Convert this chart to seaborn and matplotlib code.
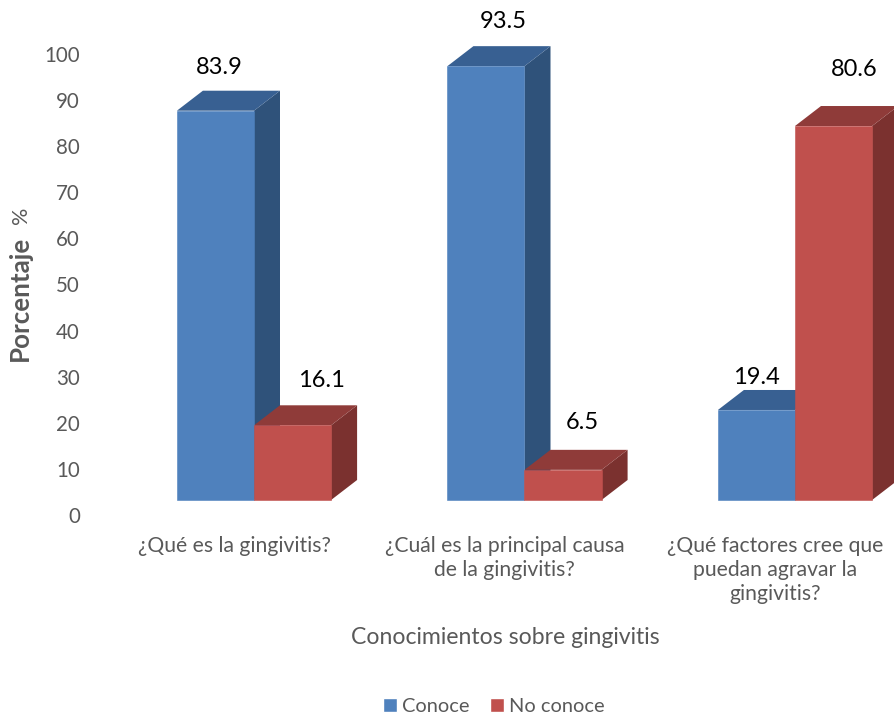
import pandas as pd
import matplotlib
matplotlib.use('Agg')
import matplotlib.pyplot as plt
import seaborn as sns

preguntas = ['¿Qué es la gingivitis?',
             '¿Cuál es la principal causa\nde la gingivitis?',
             '¿Qué factores cree que\npuedan agravar la\ngingivitis?']
conoce = [83.9, 93.5, 19.4]
no_conoce = [16.1, 6.5, 80.6]
y_ticks = [0, 10, 20, 30, 40, 50, 60, 70, 80, 90, 100]

colores = {'Conoce': '#4f81bd', 'No conoce': '#c0504d'}
lado = {'Conoce': '#2f527a', 'No conoce': '#7b312f'}
techo = {'Conoce': '#386092', 'No conoce': '#8f3b39'}
gris = '#595959'

# sizes of the picture in pixels
W, H = 894, 719
base_y = 500       # foot of the bars
px_valor = 4.64    # pixels per percent for the bars
px_tick = 4.61     # the axis labels run on a slightly different scale
tick0_y = 515
px_cat = 270.5
cat0_x = 254
fondo_x, fondo_y = 26, 20

df = pd.DataFrame({
    'pregunta': preguntas * 2,
    'valor': conoce + no_conoce,
    'serie': ['Conoce'] * 3 + ['No conoce'] * 3,
})

sns.set_theme(style='white')
plt.rcParams['font.family'] = ['Lato', 'DejaVu Sans']

fig = plt.figure(figsize=(W / 100, H / 100), dpi=100)
izq = 100
ax = fig.add_axes([izq / W, (H - tick0_y) / H, (W - izq) / W, tick0_y / H])

sns.barplot(data=df, x='pregunta', y='valor', hue='serie', palette=colores,
            hue_order=['Conoce', 'No conoce'], width=0.57, saturation=1,
            legend=True, ax=ax, zorder=5)

ax.set_xlim((izq - cat0_x) / px_cat, (W - cat0_x) / px_cat)
ax.set_ylim((base_y - tick0_y) / px_valor, base_y / px_valor)

# depth of the 3D look, taken from each bar
dx = fondo_x / px_cat
dy = fondo_y / px_valor
n = len(preguntas)
barras = [p for p in ax.patches if p.get_width() > 0][:2 * n]
for i, b in enumerate(barras):
    serie = 'Conoce' if i < n else 'No conoce'
    b.set_edgecolor(b.get_facecolor())
    b.set_linewidth(0.4)
    x0, x1 = b.get_x(), b.get_x() + b.get_width()
    alto = b.get_height()
    ax.fill([x1, x1 + dx, x1 + dx, x1], [0, dy, alto + dy, alto],
            color=lado[serie], lw=0, zorder=2 + i / 10)
    ax.fill([x0, x1, x1 + dx, x0 + dx], [alto, alto, alto + dy, alto + dy],
            color=techo[serie], lw=0, zorder=2 + i / 10)

# value labels, offset by hand like in the source chart
desp = [(4, 33), (17, 34), (0, 22), (29, 34), (19, 37), (21, 46)]
for b, (ox, oy) in zip(barras, desp):
    ax.annotate(f'{b.get_height():.1f}',
                (b.get_x() + b.get_width() / 2, b.get_height()),
                xytext=(ox * 0.72, oy * 0.72), textcoords='offset points',
                ha='center', va='bottom', fontsize=17, color='black',
                annotation_clip=False, zorder=8)

ax.set_yticks([(base_y - tick0_y + px_tick * t) / px_valor for t in y_ticks],
              [str(t) for t in y_ticks])
ax.set_xticks([i - 20 / px_cat for i in range(n)], preguntas)
ax.tick_params(axis='y', length=0, pad=14.5, labelsize=14.8, labelcolor=gris)
ax.tick_params(axis='x', length=0, pad=15, labelsize=15.2, labelcolor=gris)
for lab in ax.get_xticklabels():
    lab.set_linespacing(1.25)

sns.despine(ax=ax, left=True, bottom=True)
ax.set_xlabel('')
ax.set_ylabel('')

fig.text(505 / W, 1 - 637 / H, 'Conocimientos sobre gingivitis', ha='center',
         va='center', fontsize=16.6, color=gris)
fig.text(20 / W, 1 - 298 / H, 'Porcentaje', rotation=90, ha='center',
         va='center', fontsize=18.6, fontweight='bold', color=gris)
fig.text(21 / W, 1 - 215 / H, '%', rotation=90, ha='center',
         va='center', fontsize=15.5, color=gris)

h, l = ax.get_legend_handles_labels()
ax.get_legend().remove()
fig.legend(h, l, loc='center', bbox_to_anchor=(494 / W, 1 - 706 / H), ncol=2,
           frameon=False, fontsize=14.4, labelcolor=gris, handlelength=0.7,
           handleheight=0.7, handletextpad=0.25, columnspacing=1.0)

fig.savefig('out.png', dpi=100)
